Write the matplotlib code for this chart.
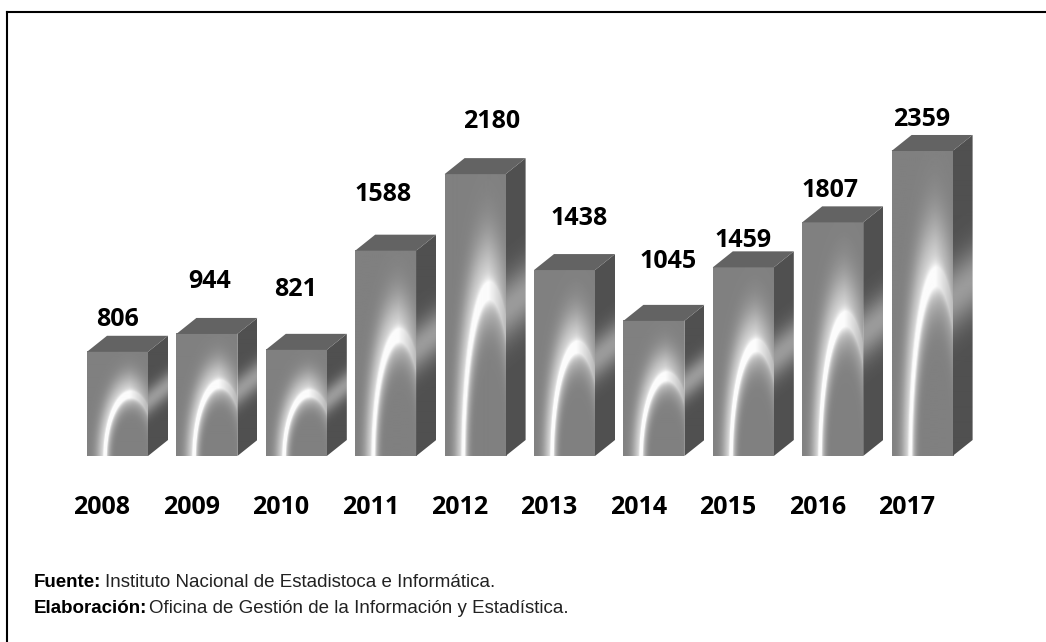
import numpy as np
import matplotlib.pyplot as plt
from matplotlib.patches import Polygon
from matplotlib.lines import Line2D

years = ['2008', '2009', '2010', '2011', '2012', '2013', '2014', '2015', '2016', '2017']
values = [806, 944, 821, 1588, 2180, 1438, 1045, 1459, 1807, 2359]

fuente = 'Instituto Nacional de Estadistoca e Informática.'
elaboracion = 'Oficina de Gestión de la Información y Estadística.'

# nudges of the value labels (pixels), the way the original sits them
lab_dx = [0, 3, -1, -3, 17, 15, 14, 0, -3, 0]
lab_dy = [32, 52, 60, 56, 53, 52, 59, 27, 32, 31]

W, H = 1046, 642
fig = plt.figure(figsize=(W / 100, H / 100), dpi=100)
ax = fig.add_axes([0, 0, 1, 1])
ax.axis('off')

step = 89.4      # px between bars
scale = 0.1293   # px per unit
x_lo = -117.5 / step
y_lo = -(H - 456) / scale

bw = 61 / step   # front width
ddx = 20 / step  # depth
ddy = 16 / scale


def front_face(wp, hp):
    X, Y = np.meshgrid((np.arange(wp) + 0.5) / wp, (np.arange(hp) + 0.5) / hp)
    r = np.sqrt(((X - 0.72) / 0.42) ** 2 + ((Y + 0.02) / 0.6) ** 2)
    d = r - 1
    ring = np.exp(-(d / 0.07) ** 2)
    glow = np.where(d > 0, 0.75 * np.exp(-(d / 0.33) ** 2), 0.6 * np.exp(-(d / 0.2) ** 2))
    fade = 1 - 0.55 * np.clip((X - 0.7) / 0.3, 0, 1)
    k = np.clip(0.6 * ring + glow, 0, 1) * fade
    return 128 + (252 - 128) * k


def side_face(wp, hp, dp):
    cols = (np.arange(wp) + 0.5) / wp
    rows = np.arange(hp + dp) + 0.5
    U, Yp = np.meshgrid(cols, rows)
    t = Yp - U * dp
    band = np.exp(-((t - 0.52 * hp) / (0.1 * hp + 3)) ** 2)
    return 80 + 75 * band


for i, v in enumerate(values):
    x0 = i - bw / 2
    hp = int(round(v * scale))

    ax.imshow(front_face(61, hp), cmap='gray', vmin=0, vmax=255, origin='lower',
              extent=(x0, x0 + bw, 0, v), aspect='auto', interpolation='bilinear')

    side = Polygon([(x0 + bw, 0), (x0 + bw + ddx, ddy), (x0 + bw + ddx, v + ddy), (x0 + bw, v)],
                   closed=True, transform=ax.transData, facecolor='none', edgecolor='none')
    ax.add_patch(side)
    ims = ax.imshow(side_face(20, hp, 16), cmap='gray', vmin=0, vmax=255, origin='lower',
                    extent=(x0 + bw, x0 + bw + ddx, 0, v + ddy), aspect='auto',
                    interpolation='bilinear')
    ims.set_clip_path(side)

    top = Polygon([(x0, v), (x0 + bw, v), (x0 + bw + ddx, v + ddy), (x0 + ddx, v + ddy)],
                  closed=True, facecolor='#636363', edgecolor='none')
    ax.add_patch(top)

    ax.annotate(str(v), xy=(i, v), xytext=(lab_dx[i], lab_dy[i]), textcoords='offset pixels',
                ha='center', va='center', fontsize=18, fontweight='bold', family='Open Sans')
    ax.annotate(years[i], xy=(i, 0), xytext=(-15.5, -51), textcoords='offset pixels',
                ha='center', va='center', fontsize=18, fontweight='bold', family='Open Sans')

ax.set_xlim(x_lo, x_lo + W / step)
ax.set_ylim(y_lo, y_lo + H / scale)

foot = ['Liberation Sans', 'DejaVu Sans']
t1 = fig.text(34 / W, 1 - 587 / H, 'Fuente:', fontsize=13.5, fontweight='bold', family=foot,
              va='baseline')
ax.annotate(fuente, xy=(1, 0), xycoords=t1, xytext=(4, 0), textcoords='offset pixels',
            va='bottom', ha='left', fontsize=13.5, family=foot, color='#222222')
t2 = fig.text(34 / W, 1 - 613 / H, 'Elaboración:', fontsize=13.5, fontweight='bold', family=foot,
              va='baseline')
ax.annotate(elaboracion, xy=(1, 0), xycoords=t2, xytext=(2, 0), textcoords='offset pixels',
            va='bottom', ha='left', fontsize=13.5, family=foot, color='#222222')

# border, only top and left are visible in the original
fig.add_artist(Line2D([7 / W, 1], [1 - 12 / H, 1 - 12 / H], color='black', lw=1.5))
fig.add_artist(Line2D([7 / W, 7 / W], [1 - 12 / H, 0], color='black', lw=1.5))

fig.savefig('out.png', dpi=100)
